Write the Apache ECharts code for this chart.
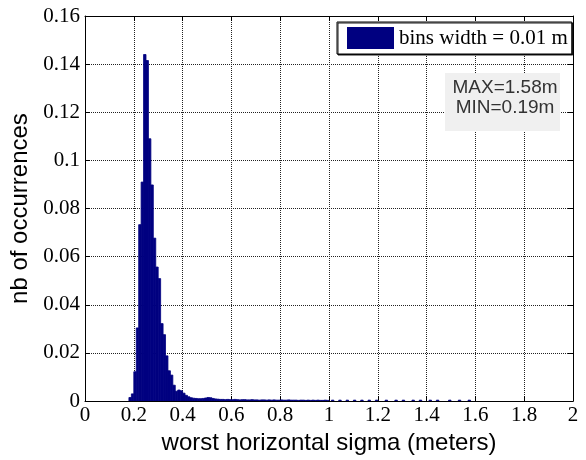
<!DOCTYPE html>
<html>
<head>
<meta charset="utf-8">
<script src="https://cdn.jsdelivr.net/npm/echarts@6/dist/echarts.min.js"></script>
<style>html,body{margin:0;padding:0;background:#fff}#c{width:586px;height:460px}</style>
</head>
<body>
<div id="c"></div>
<script>
// Histogram: left edge of each 0.01 m bin, and its value
var binEdges = [
  0.18, 0.19, 0.20, 0.21, 0.22, 0.23, 0.24, 0.25, 0.26, 0.27,
  0.28, 0.29, 0.30, 0.31, 0.32, 0.33, 0.34, 0.35, 0.36, 0.37,
  0.38, 0.39, 0.40, 0.41, 0.42, 0.43, 0.44, 0.45, 0.46, 0.47,
  0.48, 0.49, 0.50, 0.51, 0.52, 0.53, 0.54, 0.55, 0.56, 0.57,
  0.58, 0.59, 0.60, 0.61, 0.62, 0.63, 0.64, 0.65, 0.66, 0.67,
  0.68, 0.69, 0.70, 0.71, 0.72, 0.73, 0.74, 0.75, 0.76, 0.77,
  0.78, 0.79, 0.80, 0.81, 0.82, 0.83, 0.84, 0.85, 0.86, 0.87,
  0.88, 0.89, 0.90, 0.91, 0.92, 0.93, 0.94, 0.95, 0.96, 0.97,
  0.98, 0.99, 1.01, 1.04, 1.07, 1.10, 1.13, 1.16, 1.19, 1.23,
  1.27, 1.30, 1.34, 1.37, 1.41, 1.44, 1.49, 1.53, 1.57
];
var binValues = [
  0.0015, 0.0030, 0.0122, 0.0304, 0.0733, 0.0910, 0.1440, 0.1415, 0.1090, 0.0898,
  0.0677, 0.0557, 0.0509, 0.0322, 0.0276, 0.0188, 0.0126, 0.0108, 0.0066, 0.0041,
  0.0046, 0.0043, 0.0033, 0.0024, 0.0018, 0.0014, 0.0012, 0.0011, 0.0010, 0.0010,
  0.0011, 0.0013, 0.0015, 0.0014, 0.0011, 0.0009, 0.0008, 0.0007, 0.0007, 0.0006,
  0.0007, 0.0006, 0.0006, 0.0007, 0.0006, 0.0005, 0.0006, 0.0006, 0.0005, 0.0005,
  0.0006, 0.0005, 0.0005, 0.0004, 0.0005, 0.0005, 0.0004, 0.0005, 0.0004, 0.0005,
  0.0004, 0.0004, 0.0005, 0.0004, 0.0004, 0.0005, 0.0004, 0.0004, 0.0004, 0.0003,
  0.0004, 0.0004, 0.0003, 0.0004, 0.0003, 0.0004, 0.0003, 0.0004, 0.0003, 0.0003,
  0.0004, 0.0003, 0.0004, 0.0004, 0.0004, 0.0004, 0.0004, 0.0004, 0.0004, 0.0004,
  0.0004, 0.0004, 0.0004, 0.0004, 0.0004, 0.0004, 0.0004, 0.0004, 0.0004
];
var binWidth = 0.01;
var xTicks = { min: 0, max: 2, interval: 0.2 };
var yTicks = { min: 0, max: 0.16, interval: 0.02 };
var legendLabel = 'bins width = 0.01 m';
var statLines = ['MAX=1.58m', 'MIN=0.19m'];
var xTitle = 'worst horizontal sigma (meters)';
var yTitle = 'nb of occurrences';

var data = binEdges.map(function (e, i) { return [e, binValues[i]]; });

var serif = '"Liberation Serif", "Times New Roman", serif';
var sans = '"Liberation Sans", Arial, sans-serif';

var chart = echarts.init(document.getElementById('c'));
var tickStyle = { show: true, inside: true, length: 5, lineStyle: { color: '#000', width: 1 } };
var option = {
  animation: false,
  backgroundColor: '#fff',
  grid: { left: 85, right: 13, top: 16, bottom: 57, show: false },
  xAxis: [{
    type: 'value', position: 'bottom', min: xTicks.min, max: xTicks.max, interval: xTicks.interval,
    name: xTitle, nameLocation: 'middle', nameGap: 24,
    nameTextStyle: { fontFamily: sans, fontSize: 24, color: '#000', verticalAlign: 'top' },
    axisLine: { show: true, onZero: false, lineStyle: { color: '#000', width: 1 } },
    axisTick: tickStyle,
    axisLabel: { fontFamily: serif, fontSize: 21, color: '#000', margin: 4 },
    splitLine: { show: true, lineStyle: { color: '#222', type: 'dotted', width: 1 } }
  }, {
    type: 'value', position: 'top', min: xTicks.min, max: xTicks.max, interval: xTicks.interval,
    axisLine: { show: true, onZero: false, lineStyle: { color: '#000', width: 1 } },
    axisTick: tickStyle, axisLabel: { show: false }, splitLine: { show: false }
  }],
  yAxis: [{
    type: 'value', position: 'left', min: yTicks.min, max: yTicks.max, interval: yTicks.interval,
    name: yTitle, nameLocation: 'middle', nameGap: 52,
    nameTextStyle: { fontFamily: sans, fontSize: 24, color: '#000' },
    axisLine: { show: true, onZero: false, lineStyle: { color: '#000', width: 1 } },
    axisTick: tickStyle,
    axisLabel: { fontFamily: serif, fontSize: 21, color: '#000', margin: 5 },
    splitLine: { show: true, lineStyle: { color: '#222', type: 'dotted', width: 1 } }
  }, {
    type: 'value', position: 'right', min: yTicks.min, max: yTicks.max, interval: yTicks.interval,
    axisLine: { show: true, onZero: false, lineStyle: { color: '#000', width: 1 } },
    axisTick: tickStyle, axisLabel: { show: false }, splitLine: { show: false }
  }],
  legend: {
    data: [{ name: legendLabel, icon: 'rect' }],
    left: 337, top: 22,
    padding: [5, 4, 5, 10],
    itemWidth: 47, itemHeight: 22, itemGap: 5,
    backgroundColor: '#fff', borderColor: '#000', borderWidth: 1,
    shadowColor: 'rgba(0,0,0,0.9)', shadowBlur: 0, shadowOffsetX: 1, shadowOffsetY: 1,
    textStyle: { fontFamily: serif, fontSize: 21, color: '#000', padding: [0, 0, 0, 0] },
    selectedMode: false
  },
  series: [{
    type: 'custom',
    name: legendLabel,
    xAxisIndex: 0, yAxisIndex: 0,
    itemStyle: { color: '#000080' },
    data: data,
    encode: { x: 0, y: 1 },
    clip: true,
    renderItem: function (params, api) {
      var x0 = api.value(0);
      var v = api.value(1);
      var p0 = api.coord([x0, v]);
      var p1 = api.coord([x0 + binWidth, 0]);
      return {
        type: 'rect',
        shape: { x: p0[0], y: p0[1], width: p1[0] - p0[0], height: p1[1] - p0[1] },
        style: { fill: '#000080', stroke: '#000080', lineWidth: 0.8 }
      };
    },
    z: 3
  }],
  graphic: [{
    type: 'rect', left: 445, top: 73, z: 10,
    shape: { width: 115, height: 58 },
    style: { fill: '#f0f0f0' }
  }, {
    type: 'text', x: 505, y: 88, z: 11,
    style: { text: statLines[0], font: '19px ' + sans, fill: '#333', textAlign: 'center', textVerticalAlign: 'middle' }
  }, {
    type: 'text', x: 505, y: 108, z: 11,
    style: { text: statLines[1], font: '19px ' + sans, fill: '#333', textAlign: 'center', textVerticalAlign: 'middle' }
  }]
};
chart.setOption(option);
</script>
</body>
</html>
